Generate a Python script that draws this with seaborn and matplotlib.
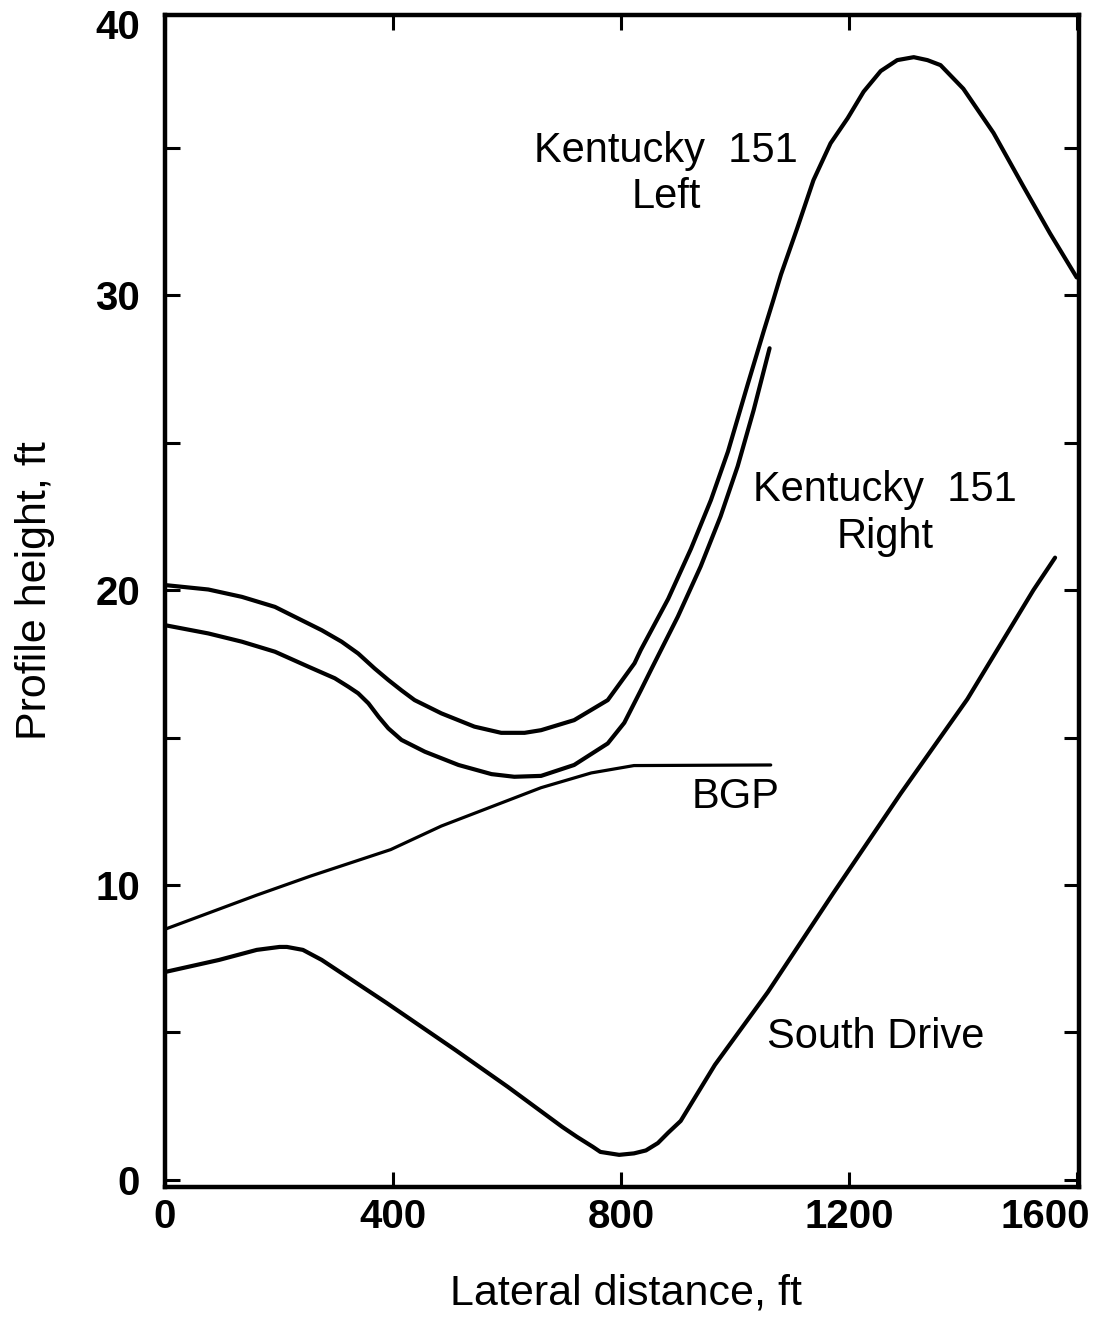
import matplotlib
matplotlib.use("Agg")
import matplotlib.pyplot as plt
from matplotlib.ticker import MultipleLocator
from matplotlib.transforms import ScaledTranslation
import seaborn as sns
import pandas as pd

# Road cross-section profiles (lateral distance in ft, height in ft)
ky_left_x = [0, 76, 135, 193, 222, 275, 310, 339, 368, 392, 415, 438, 485, 543,
             590, 631, 660, 718, 777, 824, 835, 883, 923, 958, 988, 1023, 1051,
             1067, 1081, 1110, 1138, 1168, 1198, 1226, 1256, 1285, 1314, 1338,
             1361, 1401, 1454, 1506, 1553, 1600]
ky_left_y = [20.17, 20.02, 19.77, 19.43, 19.15, 18.64, 18.25, 17.85, 17.34, 16.95,
             16.6, 16.27, 15.82, 15.37, 15.16, 15.16, 15.25, 15.59, 16.27, 17.52,
             17.97, 19.7, 21.4, 23.05, 24.7, 27.0, 28.8, 29.8, 30.7, 32.3, 33.9,
             35.15, 36.0, 36.9, 37.6, 37.97, 38.07, 37.97, 37.8, 37.0, 35.5, 33.7,
             32.1, 30.6]

ky_right_x = [0, 76, 135, 193, 252, 298, 322, 339, 357, 375, 392, 415, 456, 515,
              573, 613, 660, 718, 777, 806, 835, 853, 900, 940, 975, 1005, 1033,
              1061]
ky_right_y = [18.81, 18.53, 18.25, 17.91, 17.4, 17.01, 16.72, 16.5, 16.16, 15.7,
              15.31, 14.92, 14.52, 14.07, 13.76, 13.67, 13.7, 14.07, 14.8, 15.5,
              16.6, 17.3, 19.1, 20.8, 22.5, 24.2, 26.1, 28.2]

bgp_x = [0, 160, 255, 396, 485, 660, 748, 823, 1063]
bgp_y = [8.5, 9.65, 10.3, 11.2, 12.0, 13.3, 13.8, 14.05, 14.07]

south_x = [0, 95, 161, 201, 214, 242, 275, 389, 510, 602, 697, 723, 751, 764,
           797, 823, 844, 865, 883, 905, 965, 1058, 1173, 1291, 1408, 1524, 1562]
south_y = [7.05, 7.46, 7.8, 7.9, 7.9, 7.8, 7.46, 6.0, 4.4, 3.15, 1.8, 1.46, 1.12,
           0.95, 0.85, 0.9, 1.0, 1.25, 1.6, 2.0, 3.9, 6.37, 9.73, 13.1, 16.3,
           20.0, 21.1]

x_ticks = [0, 400, 800, 1200, 1600]
y_ticks = [0, 10, 20, 30]

sns.set_style("ticks")
plt.rcParams["font.family"] = ["Liberation Sans", "DejaVu Sans"]
plt.rcParams.update({"text.color": "black", "axes.labelcolor": "black",
                     "xtick.color": "black", "ytick.color": "black",
                     "axes.edgecolor": "black"})

fig = plt.figure(figsize=(10.97, 13.23), dpi=100)
ax = fig.add_axes([165 / 1097, 1 - 1187 / 1323, (1079 - 165) / 1097, (1187 - 15) / 1323])

series = [
    (ky_left_x, ky_left_y, 3.0),
    (ky_right_x, ky_right_y, 3.0),
    (bgp_x, bgp_y, 2.3),
    (south_x, south_y, 3.0),
]
for xs, ys, lw in series:
    df = pd.DataFrame({"x": xs, "y": ys})
    sns.lineplot(data=df, x="x", y="y", sort=False, estimator=None, ax=ax,
                 color="black", linewidth=lw, solid_capstyle="round",
                 solid_joinstyle="round")

ax.set_xlim(0, 1604)
ax.set_ylim(-0.24, 39.5)

ax.set_xticks(x_ticks)
ax.set_yticks(y_ticks)
ax.yaxis.set_minor_locator(MultipleLocator(5))
ax.tick_params(axis="both", which="both", direction="in", top=True, right=True,
               length=11, width=2.2, color="black")
ax.tick_params(axis="x", pad=8)
ax.tick_params(axis="y", pad=18)
for lab in ax.get_xticklabels() + ax.get_yticklabels():
    lab.set_fontsize(29)
    lab.set_fontweight("bold")
    lab.set_color("black")

# keep the last x tick label inside the figure
last = ax.get_xticklabels()[-1]
last.set_horizontalalignment("right")
last.set_transform(last.get_transform() + ScaledTranslation(0.13, 0, fig.dpi_scale_trans))

fig.text(140 / 1097, 1 - 28 / 1323, "40", ha="right", va="center",
         fontsize=29, fontweight="bold", color="black")

for sp in ax.spines.values():
    sp.set_linewidth(3.2)
    sp.set_color("black")

ax.set_xlabel("Lateral distance, ft", fontsize=31)
ax.set_ylabel("Profile height, ft", fontsize=31)
ax.xaxis.set_label_coords(0.504, -0.074)
ax.yaxis.set_label_coords(-0.120, 0.509)

label_kw = dict(fontsize=30, ha="center", va="center", linespacing=1.2,
                multialignment="center", color="black")
ax.text(879, 34.1, "Kentucky  151\nLeft", **label_kw)
ax.text(1264, 22.6, "Kentucky  151\nRight", **label_kw)
ax.text(1002, 13.0, "BGP", **label_kw)
ax.text(1247, 4.85, "South Drive", **label_kw)

fig.savefig("out.png", dpi=100, facecolor="white")
